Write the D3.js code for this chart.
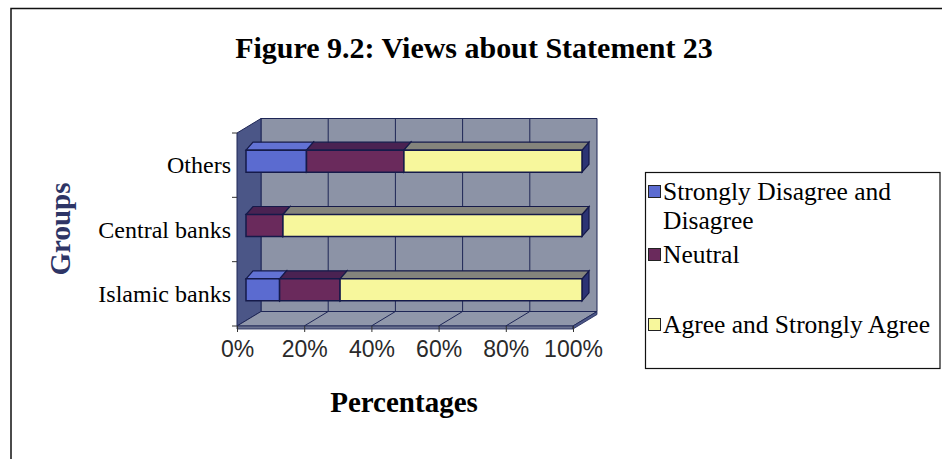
<!DOCTYPE html>
<html>
<head>
<meta charset="utf-8">
<script src="https://cdn.jsdelivr.net/npm/d3@7"></script>
<style>
  html, body { margin: 0; padding: 0; background: #fff; }
  svg { display: block; }
</style>
</head>
<body>
<svg id="chart" width="942" height="459"></svg>
<script>
// Groups, top to bottom as drawn
const categories = ["Others", "Central banks", "Islamic banks"];
// Percentage shares per group (same order as categories)
const disagreeValues = [18, 0, 10];
const neutralValues = [29, 11, 18];
const agreeValues = [53, 89, 72];
const seriesNames = ["Strongly Disagree and Disagree", "Neutral", "Agree and Strongly Agree"];
const xTickValues = [0, 20, 40, 60, 80, 100];

const svg = d3.select("#chart");
const serif = "'Liberation Serif', 'Times New Roman', Times, serif";
const sans = "'Liberation Sans', Arial, Helvetica, sans-serif";

// Outer frame
svg.append("path")
  .attr("d", "M11,459 L11,8.5 L942,8.5")
  .attr("fill", "none").attr("stroke", "#111").attr("stroke-width", 1.5);

// Title
svg.append("text")
  .attr("x", 474).attr("y", 58)
  .attr("text-anchor", "middle")
  .style("font-family", serif).style("font-weight", "bold").style("font-size", "30px")
  .text("Figure 9.2: Views about Statement 23");

// Front plane of the 3D box
const x = d3.scaleLinear().domain([0, 100]).range([237, 573]);
const y = d3.scaleBand().domain(categories).range([133, 326]).padding(0);
const depth = [24, -14.5];           // wall depth offset
const barFront = [9, -4];            // bar front face offset from front plane
const barDepth = [7, -8];            // bar thickness along depth
const barH = 22;

const top0 = y.range()[0], bot0 = y.range()[1];
const x0 = x(0), x1 = x(100);
const pt = (px, py, o) => [px + o[0], py + o[1]];
const poly = pts => "M" + pts.map(p => p.join(",")).join("L") + "Z";

const wallFill = "#8c93a6", sideFill = "#4b5687", floorFill = "#9097aa";
const gridColor = "#1e2656";

const plot = svg.append("g");

// Back wall
plot.append("path")
  .attr("d", poly([pt(x0, top0, depth), pt(x1, top0, depth), pt(x1, bot0, depth), pt(x0, bot0, depth)]))
  .attr("fill", wallFill).attr("stroke", gridColor).attr("stroke-width", 1);

// Left side wall
plot.append("path")
  .attr("d", poly([[x0, top0], pt(x0, top0, depth), pt(x0, bot0, depth), [x0, bot0]]))
  .attr("fill", sideFill).attr("stroke", gridColor).attr("stroke-width", 1);

// Floor
plot.append("path")
  .attr("d", poly([[x0, bot0], [x1, bot0], pt(x1, bot0, depth), pt(x0, bot0, depth)]))
  .attr("fill", floorFill).attr("stroke", gridColor).attr("stroke-width", 1);

// Floor front lip
plot.append("path")
  .attr("d", poly([[x0, bot0], [x1, bot0], [x1, bot0 + 3], [x0, bot0 + 3]]))
  .attr("fill", "#6b7290").attr("stroke", gridColor).attr("stroke-width", 0.8);
plot.append("path")
  .attr("d", poly([[x1, bot0], pt(x1, bot0, depth), pt(x1, bot0 + 3, depth), [x1, bot0 + 3]]))
  .attr("fill", "#4c5787").attr("stroke", gridColor).attr("stroke-width", 0.8);

// Gridlines on back wall and floor
xTickValues.slice(1, -1).forEach(v => {
  const bx = x(v) + depth[0];
  plot.append("line")
    .attr("x1", bx).attr("x2", bx)
    .attr("y1", top0 + depth[1]).attr("y2", bot0 + depth[1])
    .attr("stroke", gridColor).attr("stroke-width", 1);
  plot.append("line")
    .attr("x1", x(v)).attr("y1", bot0)
    .attr("x2", bx).attr("y2", bot0 + depth[1])
    .attr("stroke", gridColor).attr("stroke-width", 1);
});

// Y axis ticks at band edges
const yEdges = categories.map(c => y(c)).concat([bot0]);
plot.selectAll(".ytick").data(yEdges).join("line")
  .attr("x1", x0 - 5).attr("x2", x0)
  .attr("y1", d => d).attr("y2", d => d)
  .attr("stroke", "#333").attr("stroke-width", 1);

// X axis
const xAxis = d3.axisBottom(x)
  .tickValues(xTickValues)
  .tickFormat(d => d + "%")
  .tickSize(6)
  .tickPadding(9);
const gx = svg.append("g").attr("transform", `translate(0,${bot0})`).call(xAxis);
gx.select(".domain").remove();
gx.selectAll(".tick line").attr("stroke", "#333");
gx.selectAll(".tick text")
  .style("font-family", sans).style("font-size", "23px").attr("fill", "#2a2a2a");

// Category labels
svg.selectAll(".catlabel").data(categories).join("text")
  .attr("x", 231)
  .attr("y", d => y(d) + y.bandwidth() / 2 + 8)
  .attr("text-anchor", "end")
  .style("font-family", serif).style("font-size", "24px")
  .text(d => d);

// Axis titles
svg.append("text")
  .attr("transform", "translate(70,229) rotate(-90)")
  .attr("text-anchor", "middle")
  .style("font-family", serif).style("font-weight", "bold").style("font-size", "29px")
  .attr("fill", "#2e3566")
  .text("Groups");
svg.append("text")
  .attr("x", 404).attr("y", 412)
  .attr("text-anchor", "middle")
  .style("font-family", serif).style("font-weight", "bold").style("font-size", "29px")
  .text("Percentages");

// Stacked data
const rows = categories.map((c, i) => ({
  cat: c, d: disagreeValues[i], n: neutralValues[i], a: agreeValues[i]
}));
const stack = d3.stack().keys(["d", "n", "a"]);
const layers = stack(rows);

const faces = [
  { front: "#5b6bd0", top: "#6272d4", side: "#3a4699" },
  { front: "#6a2a5c", top: "#4a2252", side: "#3a1c48" },
  { front: "#f7f79c", top: "#84847c", side: "#2c3474" }
];
const outline = "#151a4a";

// Bars: front, top and end faces, drawn left to right
rows.forEach((row, ri) => {
  const cy = y(row.cat) + y.bandwidth() / 2 + barFront[1];
  const yt = cy - barH / 2, yb = cy + barH / 2;
  layers.forEach((layer, li) => {
    const seg = layer[ri];
    if (seg[1] - seg[0] <= 0) return;
    const xa = x(seg[0]) + barFront[0], xb = x(seg[1]) + barFront[0];
    const g = plot.append("g");
    // end face
    g.append("path")
      .attr("d", poly([[xb, yt], pt(xb, yt, barDepth), pt(xb, yb, barDepth), [xb, yb]]))
      .attr("fill", faces[li].side).attr("stroke", outline).attr("stroke-width", 1.2);
    // top face
    g.append("path")
      .attr("d", poly([[xa, yt], [xb, yt], pt(xb, yt, barDepth), pt(xa, yt, barDepth)]))
      .attr("fill", faces[li].top).attr("stroke", outline).attr("stroke-width", 1.2);
    // front face
    g.append("path")
      .attr("d", poly([[xa, yt], [xb, yt], [xb, yb], [xa, yb]]))
      .attr("fill", faces[li].front).attr("stroke", outline).attr("stroke-width", 1.5);
  });
});

// Legend
const legend = svg.append("g");
legend.append("rect")
  .attr("x", 645.5).attr("y", 172.5).attr("width", 294.5).attr("height", 196)
  .attr("fill", "#fff").attr("stroke", "#111").attr("stroke-width", 1.2);
const legendItems = [
  { lines: ["Strongly Disagree and", "Disagree"], y: 200 },
  { lines: ["Neutral"], y: 263 },
  { lines: ["Agree and Strongly Agree"], y: 333 }
];
legendItems.forEach((item, i) => {
  legend.append("rect")
    .attr("x", 648.5).attr("y", item.y - 14.5).attr("width", 12).attr("height", 12)
    .attr("fill", faces[i].front).attr("stroke", "#222").attr("stroke-width", 1);
  const t = legend.append("text")
    .attr("x", 663).attr("y", item.y)
    .style("font-family", serif).style("font-size", "25.5px");
  item.lines.forEach((ln, k) => {
    t.append("tspan").attr("x", 663).attr("dy", k === 0 ? 0 : 29).text(ln);
  });
});
</script>
</body>
</html>
